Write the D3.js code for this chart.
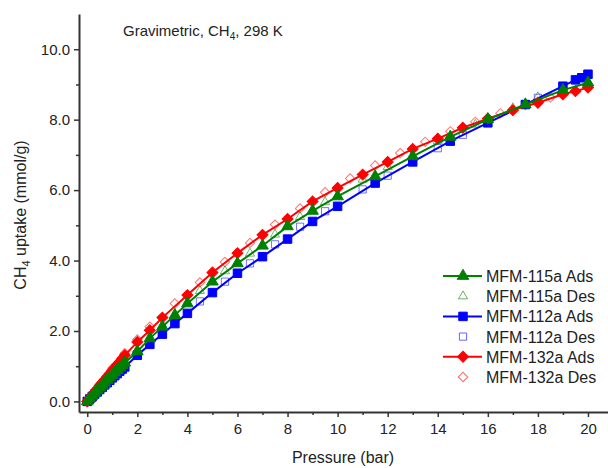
<!DOCTYPE html>
<html>
<head>
<meta charset="utf-8">
<script src="https://cdn.jsdelivr.net/npm/d3@7"></script>
<style>
  body { margin: 0; background: #fff; }
  text { font-family: Arial, "Liberation Sans", sans-serif; fill: #222; }
</style>
</head>
<body>
<div id="chart-container"></div>
<script>
// pressures (bar) and uptake (mmol/g)
let lowP = [0, 0.1, 0.2, 0.3, 0.4, 0.5, 0.6, 0.7, 0.8, 0.9, 1.0, 1.1, 1.2, 1.3, 1.4, 1.5];

let p115Ads = lowP.concat([2, 2.5, 3, 3.5, 4, 5, 6, 7, 8, 9, 10, 11.5, 13, 14.5, 16, 17.5, 19, 20]);
let v115Ads = [0, 0.08, 0.16, 0.24, 0.31, 0.39, 0.46, 0.53, 0.61, 0.68, 0.75, 0.82, 0.89, 0.96, 1.03, 1.10,
               1.42, 1.79, 2.12, 2.45, 2.78, 3.40, 3.92, 4.42, 4.97, 5.41, 5.82, 6.39, 6.96, 7.51, 8.01, 8.43, 8.84, 9.05];
let p115Des = [20, 18, 17, 15.5, 14, 12, 11, 9.5, 8.5, 7.5, 6.5, 5.5, 4.5, 3, 2, 1];
let v115Des = [9.05, 8.64, 8.33, 7.86, 7.40, 6.66, 6.30, 5.66, 5.24, 4.74, 4.20, 3.70, 3.14, 2.16, 1.47, 0.78];

let p112Ads = lowP.concat([2, 2.5, 3, 3.5, 4, 5, 6, 7, 8, 9, 10, 11.5, 13, 14.5, 16, 17.5, 19, 19.5, 19.75, 20]);
let v112Ads = [0, 0.07, 0.14, 0.21, 0.27, 0.34, 0.40, 0.47, 0.53, 0.60, 0.67, 0.73, 0.79, 0.86, 0.92, 0.98,
               1.31, 1.62, 1.91, 2.21, 2.50, 3.09, 3.64, 4.11, 4.61, 5.11, 5.54, 6.20, 6.80, 7.39, 7.91, 8.43, 8.95, 9.13, 9.19, 9.29];
let p112Des = [20, 18, 15, 14, 12, 11, 9.5, 8.5, 7.5, 6.5, 5.5, 4.5, 3, 2, 1];
let v112Des = [9.27, 8.62, 7.57, 7.19, 6.41, 6.02, 5.40, 4.96, 4.46, 3.92, 3.40, 2.84, 1.95, 1.34, 0.70];

let p132Ads = lowP.concat([2, 2.5, 3, 4, 5, 6, 7, 8, 9, 10, 11, 12, 13, 14, 15, 16, 17, 18, 19, 19.5, 20]);
let v132Ads = [0, 0.09, 0.18, 0.27, 0.36, 0.45, 0.54, 0.62, 0.71, 0.79, 0.88, 0.96, 1.05, 1.13, 1.22, 1.31,
               1.69, 2.02, 2.38, 3.02, 3.66, 4.21, 4.73, 5.18, 5.68, 6.06, 6.44, 6.80, 7.17, 7.46, 7.77, 8.03, 8.27, 8.48, 8.72, 8.81, 8.91];
let p132Des = [20, 19, 18.5, 17.5, 16.5, 15.5, 14.5, 13.5, 12.5, 11.5, 10.5, 9.5, 8.5, 7.5, 6.5, 5.5, 4.5, 3.5, 2.5, 2, 1.5, 1, 0.5];
let v132Des = [8.93, 8.74, 8.63, 8.41, 8.18, 7.94, 7.67, 7.37, 7.05, 6.70, 6.33, 5.94, 5.48, 5.02, 4.50, 3.96, 3.38, 2.78, 2.12, 1.76, 1.37, 0.94, 0.49];

let xTicks = [0, 2, 4, 6, 8, 10, 12, 14, 16, 18, 20];
let xMinor = [1, 3, 5, 7, 9, 11, 13, 15, 17, 19];
let yTicks = [0, 2, 4, 6, 8, 10];
let yMinor = [1, 3, 5, 7, 9];

let series = [
  { name: "MFM-115a Ads", color: "#008000", shape: "triangle", filled: true, p: p115Ads, v: v115Ads },
  { name: "MFM-115a Des", color: "#008000", shape: "triangle", filled: false, p: p115Des, v: v115Des },
  { name: "MFM-112a Ads", color: "#0000ff", shape: "square", filled: true, p: p112Ads, v: v112Ads },
  { name: "MFM-112a Des", color: "#0000ff", shape: "square", filled: false, p: p112Des, v: v112Des },
  { name: "MFM-132a Ads", color: "#ff0000", shape: "diamond", filled: true, p: p132Ads, v: v132Ads },
  { name: "MFM-132a Des", color: "#ff0000", shape: "diamond", filled: false, p: p132Des, v: v132Des }
];

let W = 608, H = 468;
let svg = d3.select("#chart-container").append("svg").attr("width", W).attr("height", H);

let x = d3.scaleLinear().domain([-0.33, 20.8]).range([79, 608]),
    y = d3.scaleLinear().domain([-0.3, 11.0]).range([412, 14]);

function symbolPath(shape, filled) {
  if (shape === "triangle") return d3.symbol(d3.symbolTriangle, filled ? 58 : 36)();
  if (shape === "square") return d3.symbol(d3.symbolSquare, filled ? 72 : 52)();
  return d3.symbol(d3.symbolSquare, filled ? 60 : 44)();
}
function symbolRotate(shape) { return shape === "diamond" ? " rotate(45)" : ""; }

// draw order: hollow first, then blue, red, green on top
let drawOrder = [3, 5, 1, 2, 4, 0];
let plot = svg.append("g");
drawOrder.forEach(function (i) {
  let s = series[i];
  let pts = s.p.map((p, k) => [p, s.v[k]]);
  let g = plot.append("g");
  if (s.filled) {
    g.append("path")
      .datum(pts)
      .attr("fill", "none")
      .attr("stroke", s.color)
      .attr("stroke-width", 2)
      .attr("d", d3.line().x(d => x(d[0])).y(d => y(d[1])));
  }
  g.selectAll("path.m")
    .data(pts)
    .join("path")
    .attr("class", "m")
    .attr("transform", d => `translate(${x(d[0])},${y(d[1])})` + symbolRotate(s.shape))
    .attr("d", symbolPath(s.shape, s.filled))
    .attr("fill", s.filled ? s.color : "none")
    .attr("stroke", s.color)
    .attr("stroke-opacity", s.filled ? 1 : 0.55)
    .attr("stroke-width", 1);
});

// axes
let axisColor = "#333";
svg.append("g").attr("transform", "translate(0,412)")
  .call(d3.axisBottom(x).tickValues(xTicks).tickSize(5).tickSizeOuter(0).tickPadding(6).tickFormat(d3.format("d")));
svg.append("g").attr("transform", "translate(0,412)")
  .call(d3.axisBottom(x).tickValues(xMinor).tickSize(3).tickSizeOuter(0).tickFormat(""))
  .select(".domain").remove();
svg.append("g").attr("transform", "translate(79,0)")
  .call(d3.axisLeft(y).tickValues(yTicks).tickSize(5).tickSizeOuter(0).tickPadding(4).tickFormat(d3.format(".1f")));
svg.append("g").attr("transform", "translate(79,0)")
  .call(d3.axisLeft(y).tickValues(yMinor).tickSize(3).tickSizeOuter(0).tickFormat(""))
  .select(".domain").remove();

svg.selectAll(".domain").attr("stroke", axisColor).attr("stroke-width", 2);
svg.selectAll(".tick line").attr("stroke", axisColor).attr("stroke-width", 1.5);
svg.selectAll(".tick text").attr("font-size", 15).attr("fill", "#222")
  .attr("font-family", "Arial, 'Liberation Sans', sans-serif");

// axis titles
svg.append("text")
  .attr("x", 343).attr("y", 463)
  .attr("text-anchor", "middle")
  .attr("font-size", 16)
  .text("Pressure (bar)");

let yl = svg.append("text")
  .attr("transform", "translate(26,215) rotate(-90)")
  .attr("text-anchor", "middle")
  .attr("font-size", 16);
yl.append("tspan").text("CH");
yl.append("tspan").attr("font-size", 11).attr("dy", 4).text("4");
yl.append("tspan").attr("dy", -4).text(" uptake (mmol/g)");

// title
let tt = svg.append("text").attr("x", 123).attr("y", 36).attr("font-size", 15);
tt.append("tspan").text("Gravimetric, CH");
tt.append("tspan").attr("font-size", 10).attr("dy", 4).text("4");
tt.append("tspan").attr("dy", -4).text(", 298 K");

// legend
let legend = svg.append("g");
series.forEach(function (s, i) {
  let ly = 276 + i * 20.2;
  let lg = legend.append("g").attr("transform", `translate(0,${ly})`);
  if (s.filled) {
    lg.append("line").attr("x1", 443).attr("x2", 482).attr("y1", 0).attr("y2", 0)
      .attr("stroke", s.color).attr("stroke-width", 2);
  }
  lg.append("path")
    .attr("transform", "translate(463,0)" + symbolRotate(s.shape))
    .attr("d", symbolPath(s.shape, s.filled))
    .attr("fill", s.filled ? s.color : "none")
    .attr("stroke", s.color)
    .attr("stroke-opacity", s.filled ? 1 : 0.6)
    .attr("stroke-width", 1);
  lg.append("text").attr("x", 486).attr("y", 6).attr("font-size", 16).text(s.name);
});
</script>
</body>
</html>
